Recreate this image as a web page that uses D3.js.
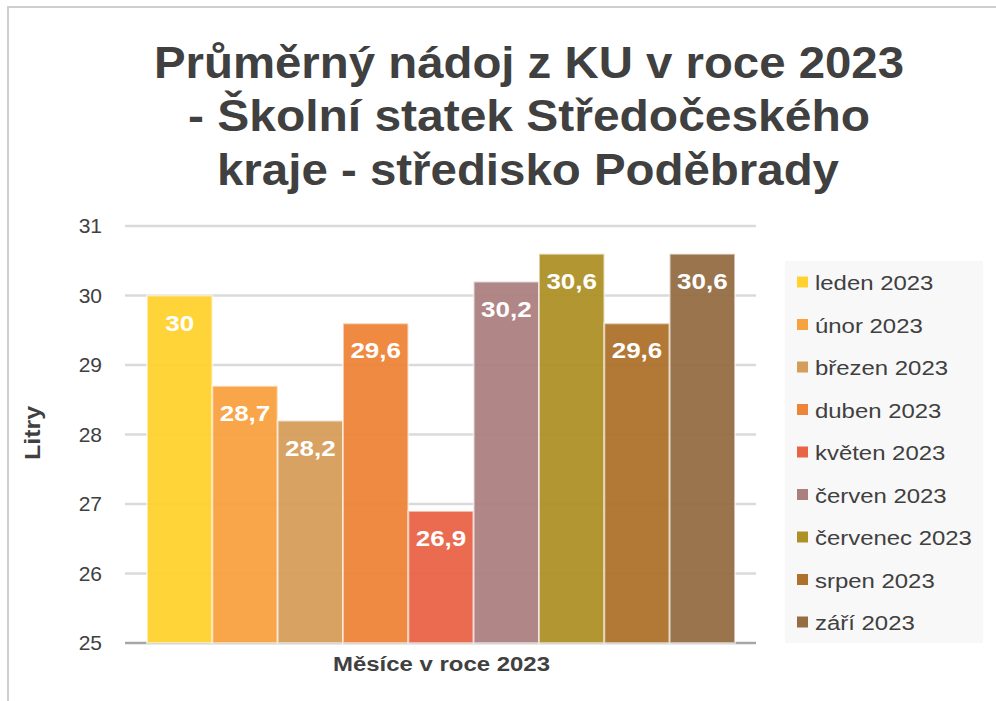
<!DOCTYPE html>
<html><head><meta charset="utf-8">
<script src="https://cdn.jsdelivr.net/npm/d3@7"></script>
<style>body{margin:0;background:#fff}svg{display:block;font-family:"Liberation Sans",Arial,sans-serif}</style>
</head><body>
<svg id="c" width="996" height="701"></svg>
<script>
const titleLines = ["Průměrný nádoj z KU v roce 2023", "- Školní statek Středočeského", "kraje - středisko Poděbrady"];
const categories = ["leden 2023","únor 2023","březen 2023","duben 2023","květen 2023","červen 2023","červenec 2023","srpen 2023","září 2023"];
const values = [30, 28.7, 28.2, 29.6, 26.9, 30.2, 30.6, 29.6, 30.6];
const colors = ["#FFD22E","#F8A13F","#D59D5A","#EE8438","#E96347","#AC7F7F","#AD9026","#AE712B","#946D42"];
const yTicks = [25,26,27,28,29,30,31];
const yLabel = "Litry", xLabel = "Měsíce v roce 2023";

const svg = d3.select("#c");
// frame
svg.append("rect").attr("x",8).attr("y",7).attr("width",1100).attr("height",800)
  .attr("fill","none").attr("stroke","#cfcfcf").attr("stroke-width",2);

// title
const tW = [750, 682, 622], tX = [154, 188, 217], tY = [78, 131, 185];
titleLines.forEach((t,i)=>{
  svg.append("text").attr("x",tX[i]).attr("y",tY[i]).text(t)
    .attr("font-size",44).attr("font-weight","bold").attr("fill","#404040")
    .attr("textLength",tW[i]).attr("lengthAdjust","spacingAndGlyphs");
});

const y = d3.scaleLinear().domain([25,31]).range([643,226]);
const x = d3.scaleBand().domain(categories).range([147,735]).padding(0);

// gridlines
svg.append("g").selectAll("line").data(yTicks).join("line")
  .attr("x1",125).attr("x2",756).attr("y1",d=>y(d)).attr("y2",d=>y(d))
  .attr("stroke",d=>d===25?"#a6a6a6":"#dadada").attr("stroke-width",2.5);

// y axis labels
const ax = svg.append("g").attr("transform","translate(105,0)").call(d3.axisLeft(y).tickValues(yTicks).tickSize(0).tickFormat(d3.format("d")));
ax.select(".domain").remove();
ax.selectAll("text").attr("font-size",21).attr("fill","#404040").attr("font-family","Liberation Sans, Arial, sans-serif").attr("dx",0);

// bars
svg.append("g").selectAll("rect").data(values).join("rect")
  .attr("x",(d,i)=>x(categories[i])).attr("width",x.bandwidth())
  .attr("y",d=>y(d)).attr("height",d=>y(25)-y(d))
  .attr("fill",(d,i)=>colors[i]).attr("fill-opacity",0.95)
  .attr("stroke","#ffffff").attr("stroke-opacity",0.55).attr("stroke-width",2);

// bar labels
svg.append("g").selectAll("text").data(values).join("text")
  .attr("transform",(d,i)=>`translate(${x(categories[i])+x.bandwidth()/2},${y(d)+35}) scale(1.18,1)`)
  .attr("text-anchor","middle").attr("font-size",22).attr("font-weight","bold").attr("fill","#fff")
  .text(d=>String(d).replace(".",","));

// axis titles
svg.append("text").attr("transform","translate(40,433) rotate(-90)").attr("x",-27).attr("y",0)
  .attr("font-size",22).attr("font-weight","bold").attr("fill","#404040")
  .attr("textLength",54).attr("lengthAdjust","spacingAndGlyphs").text(yLabel);
svg.append("text").attr("x",333).attr("y",671)
  .attr("font-size",20).attr("font-weight","bold").attr("fill","#404040")
  .attr("textLength",217).attr("lengthAdjust","spacingAndGlyphs").text(xLabel);

// legend
svg.append("rect").attr("x",785).attr("y",261).attr("width",198).attr("height",382).attr("fill","#f8f8f8");
const lg = svg.append("g").selectAll("g").data(categories).join("g")
  .attr("transform",(d,i)=>`translate(797,${282+i*42.5})`);
lg.append("rect").attr("x",0).attr("y",-5.5).attr("width",11).attr("height",11).attr("fill",(d,i)=>colors[i]);
lg.append("text").attr("transform","translate(18,8) scale(1.14,1)").attr("font-size",21).attr("fill","#404040").text(d=>d);
</script>
</body></html>
